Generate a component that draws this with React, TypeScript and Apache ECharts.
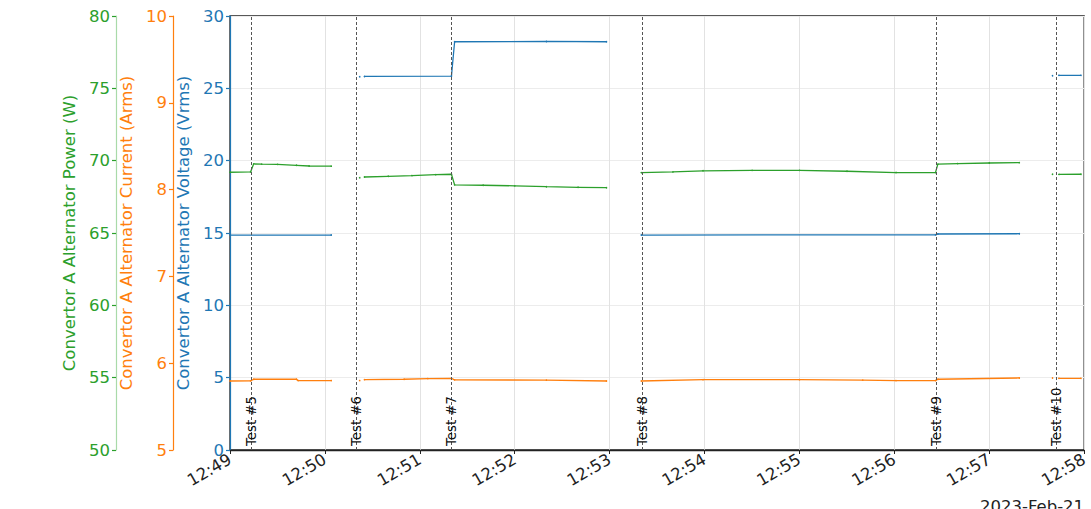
import React, { useEffect, useRef } from "react";
import * as echarts from "echarts";

// time in seconds after 12:49:00 (2023-02-21)
const BASE_MINUTES = 12 * 60 + 49;
const X_MAX = 540;

const testNames = ["Test #5", "Test #6", "Test #7", "Test #8", "Test #9", "Test #10"];
const testTimes = [13.7, 80, 140, 260.5, 446.7, 522.5];

const powerData: [number, number | null][] = [
  [0, 69.2], [13, 69.22], [15, 69.78], [20, 69.76], [30, 69.74], [42, 69.68], [50, 69.63], [64, 69.62],
  [73, null],
  [82, 68.82],
  [83, null],
  [85, 68.87], [100, 68.92], [115, 68.97], [130, 69.03], [140, 69.06], [142, 68.33], [160, 68.3],
  [180, 68.26], [200, 68.2], [220, 68.16], [238, 68.13],
  [249, null],
  [260, 69.17], [280, 69.22], [299, 69.3], [330, 69.33], [360, 69.33], [390, 69.27], [421, 69.18],
  [446, 69.17], [447.5, 69.76], [460, 69.8], [480, 69.84], [499, 69.86],
  [510, null],
  [520, 69.06],
  [521, null],
  [524, 69.05], [538, 69.06],
];

const voltageData: [number, number | null][] = [
  [0, 14.86], [64, 14.86],
  [73, null],
  [82, 25.8],
  [83, null],
  [85, 25.82], [140, 25.84], [142, 28.22], [200, 28.24], [238, 28.22],
  [249, null],
  [260, 14.86], [446, 14.87], [447.5, 14.93], [499, 14.95],
  [510, null],
  [520, 25.87],
  [521, null],
  [524, 25.9], [538, 25.9],
];

const currentData: [number, number | null][] = [
  [0, 5.795], [13, 5.796], [15, 5.815], [42, 5.815], [43, 5.8], [64, 5.8],
  [73, null],
  [82, 5.8],
  [83, null],
  [85, 5.81], [110, 5.815], [125, 5.823], [140, 5.826], [142, 5.808], [200, 5.805], [238, 5.795],
  [249, null],
  [260, 5.795], [299, 5.81], [360, 5.81], [400, 5.805], [421, 5.8], [446, 5.8], [447.5, 5.815], [499, 5.83],
  [510, null],
  [520, 5.83],
  [521, null],
  [524, 5.826], [538, 5.826],
];

const GREEN = "#2ca02c";
const ORANGE = "#ff7f0e";
const BLUE = "#1f77b4";
const FONT = "DejaVu Sans";
const FS = 16.5;

function fmtTime(v: number): string {
  const m = BASE_MINUTES + Math.round(v / 60);
  const hh = Math.floor(m / 60);
  const mm = m % 60;
  return `${hh}:${mm < 10 ? "0" + mm : mm}`;
}

function yAxisFor(name: string, color: string, min: number, max: number, interval: number, offset: number, lineColor: string, grid: boolean) {
  return {
    type: "value",
    position: "left",
    offset,
    name,
    nameLocation: "middle",
    nameGap: 31,
    nameTextStyle: { color, fontSize: FS, fontFamily: FONT },
    min,
    max,
    interval,
    axisLine: { show: true, lineStyle: { color: lineColor, width: 1.2 } },
    axisTick: { show: true, length: 4, lineStyle: { color, width: 1.2 } },
    axisLabel: { color, fontSize: FS, fontFamily: FONT, margin: 6 },
    splitLine: { show: grid, lineStyle: { color: "#ececec", width: 1 } },
  };
}

function seriesFor(name: string, data: [number, number | null][], color: string, yAxisIndex: number, extra: any = {}) {
  return {
    name,
    type: "line",
    yAxisIndex,
    data,
    showSymbol: true,
    symbol: "circle",
    symbolSize: 1.6,
    connectNulls: false,
    lineStyle: { color, width: 1.3 },
    itemStyle: { color },
    ...extra,
  };
}

export default function App() {
  const ref = useRef<HTMLDivElement>(null);
  useEffect(() => {
    if (!ref.current) return;
    const chart = echarts.init(ref.current, undefined, { renderer: "svg" });
    chart.setOption({
      animation: false,
      grid: {
        left: 230,
        right: 5,
        top: 16,
        bottom: 59,
        show: true,
        borderColor: "#222",
        borderWidth: 1.3,
        backgroundColor: "transparent",
      },
      xAxis: {
        type: "value",
        min: 0,
        max: X_MAX,
        interval: 60,
        axisLine: { show: true, lineStyle: { color: "#222", width: 1.3 } },
        axisTick: { show: true, length: 4, lineStyle: { color: "#222" } },
        axisLabel: {
          color: "#222",
          fontSize: FS,
          fontFamily: FONT,
          rotate: 30,
          margin: 8,
          formatter: (v: number) => fmtTime(v),
        },
        splitLine: { show: true, lineStyle: { color: "#e2e2e2", width: 1 } },
      },
      yAxis: [
        yAxisFor("Convertor A Alternator Voltage (Vrms)", BLUE, 0, 30, 5, 0, BLUE, true),
        yAxisFor("Convertor A Alternator Current (Arms)", ORANGE, 5, 10, 1, 57, ORANGE, false),
        yAxisFor("Convertor A Alternator Power (W)", GREEN, 50, 80, 5, 114, "#a9daa9", false),
      ],
      series: [
        seriesFor("Voltage", voltageData, BLUE, 0, {
          markLine: {
            silent: true,
            symbol: ["none", "none"],
            lineStyle: { color: "#555", type: [3, 2], width: 1 },
            label: {
              show: true,
              position: "insideStart",
              distance: 4,
              color: "#111",
              fontSize: 13.3,
              fontFamily: FONT,
              formatter: (p: any) => testNames[p.dataIndex],
            },
            data: testTimes.map((t) => ({ xAxis: t })),
          },
        }),
        seriesFor("Current", currentData, ORANGE, 1),
        seriesFor("Power", powerData, GREEN, 2),
      ],
      graphic: [
        {
          type: "text",
          left: 980,
          top: 498,
          style: { text: "2023-Feb-21", fill: "#222", fontSize: FS, fontFamily: FONT },
        },
      ],
    });
    return () => chart.dispose();
  }, []);
  return <div ref={ref} style={{ width: 1091, height: 509, position: "absolute", left: 0, top: 0 }} />;
}
